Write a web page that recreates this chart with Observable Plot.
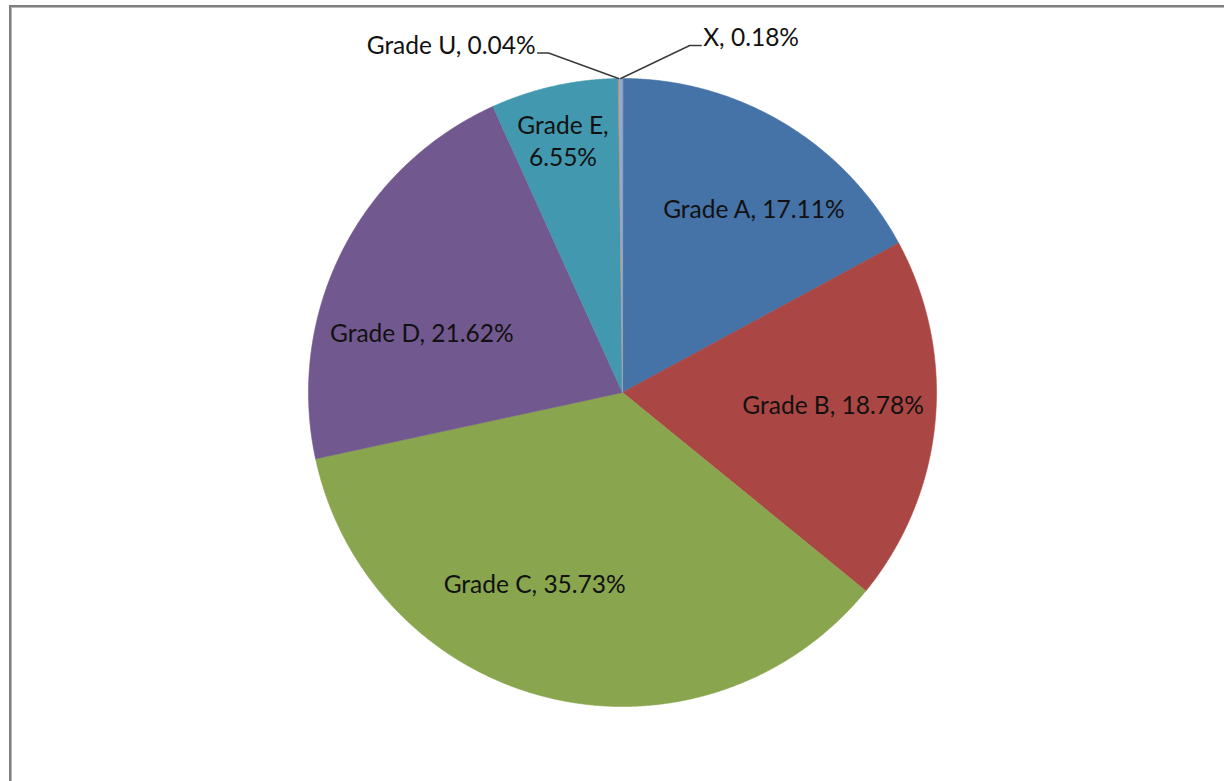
<!DOCTYPE html>
<html><head><meta charset="utf-8">
<script src="https://cdn.jsdelivr.net/npm/d3@7"></script>
<script src="https://cdn.jsdelivr.net/npm/@observablehq/plot@0.6"></script>
<style>
html,body{margin:0;padding:0;background:#fff;}
#wrap{position:relative;width:1224px;height:781px;overflow:hidden;background:#fff;}
#frame{position:absolute;left:9px;top:5px;width:1400px;height:1000px;border-left:2px solid #7f7f7f;border-top:2px solid #7f7f7f;box-shadow:inset 1px 1px 0 #b8b8b8;}
#chart{position:absolute;left:0;top:0;}
</style></head><body>
<div id="wrap"><div id="frame"></div><div id="chart"></div></div>
<script>
// ---- data ----
const grades = ["Grade A", "Grade B", "Grade C", "Grade D", "Grade E", "Grade U", "X"];
const shares = [17.11, 18.78, 35.73, 21.62, 6.55, 0.04, 0.18];
const colors = ["#4572A7", "#AA4643", "#89A54E", "#71588F", "#4198AF", "#DB843D", "#93A9CF"];

// ---- layout ----
const W = 1224, H = 781, CX = 622, CY = 392, R = 314;
const FONT = "Lato, 'Open Sans', sans-serif", FS = 24.5;
// inside labels: pixel nudges from the centroid at 0.68 R
const inside = {
  "Grade A": {dx: 22, dy: -1},
  "Grade B": {dx: -2, dy: -9},
  "Grade C": {dx: -38, dy: -17},
  "Grade D": {dx: -10, dy: 35},
  "Grade E": {dx: -13, dy: -44, wrap: true}
};
// outside labels with leader lines
const outside = {
  "Grade U": {ex: -70, ey: -25.5, tail: -11, anchor: "end"},
  "X": {ex: 69, ey: -33, tail: 11.5, anchor: "start"}
};

const arcs = d3.pie().value(d => d).sort(null)(shares);
const pt = (a, r) => ({x: r * Math.sin(a), y: r * Math.cos(a)});

const slicePts = [];
arcs.forEach((a, i) => {
  const name = grades[i];
  slicePts.push({name, x: 0, y: 0});
  const n = Math.max(2, Math.ceil((a.endAngle - a.startAngle) / 0.004));
  for (let k = 0; k <= n; k++) {
    const ang = a.startAngle + (a.endAngle - a.startAngle) * k / n;
    slicePts.push({name, ...pt(ang, 1)});
  }
});

const labels = [];
const leaders = [];
arcs.forEach((a, i) => {
  const name = grades[i];
  const txt = `${name}, ${shares[i].toFixed(2)}%`;
  const mid = (a.startAngle + a.endAngle) / 2;
  if (inside[name]) {
    const o = inside[name];
    const c = pt(mid, 0.68);
    labels.push({x: c.x + o.dx / R, y: c.y - o.dy / R,
      text: o.wrap ? txt.replace(", ", ",\n") : txt, anchor: "middle"});
  } else if (outside[name]) {
    const o = outside[name];
    const p0 = pt(mid, 1);
    const p1 = {x: p0.x + o.ex / R, y: p0.y - o.ey / R};
    const p2 = {x: p1.x + o.tail / R, y: p1.y};
    leaders.push({name, ...p0}, {name, ...p1}, {name, ...p2});
    const sgn = o.anchor === "end" ? -1 : 1;
    labels.push({x: p2.x + sgn * 2 / R, y: p2.y + 7 / R, text: txt, anchor: o.anchor});
  }
});

const chart = Plot.plot({
  width: W, height: H,
  margin: 0,
  style: {background: "transparent", fontFamily: FONT},
  x: {domain: [-CX / R, (W - CX) / R], axis: null},
  y: {domain: [-(H - CY) / R, CY / R], axis: null},
  color: {domain: grades, range: colors},
  marks: [
    Plot.line(slicePts, {x: "x", y: "y", z: "name", fill: "name", stroke: "name", strokeWidth: 0.6, curve: "linear-closed"}),
    Plot.line(leaders, {x: "x", y: "y", z: "name", stroke: "#3a3a3a", strokeWidth: 1.4}),
    Plot.text(labels.filter(d => d.anchor === "middle"), {x: "x", y: "y", text: "text", fontSize: FS, fill: "#111", lineHeight: 1.29, textAnchor: "middle"}),
    Plot.text(labels.filter(d => d.anchor === "end"), {x: "x", y: "y", text: "text", fontSize: FS, fill: "#111", textAnchor: "end"}),
    Plot.text(labels.filter(d => d.anchor === "start"), {x: "x", y: "y", text: "text", fontSize: FS, fill: "#111", textAnchor: "start"})
  ]
});
document.getElementById("chart").appendChild(chart);
</script>
</body></html>
